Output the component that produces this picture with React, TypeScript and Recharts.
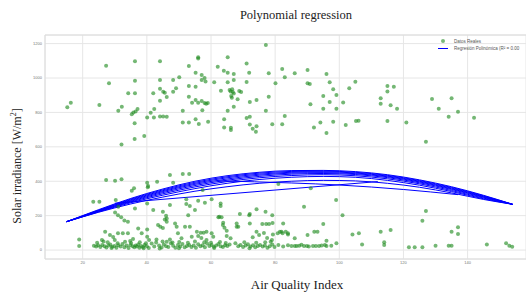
import React from 'react';
import { ComposedChart, Scatter, Line, XAxis, YAxis, CartesianGrid, ReferenceLine } from 'recharts';

// ---------- data ----------
const xTicks = [20, 40, 60, 80, 100, 120, 140];
const yTicks = [0, 200, 400, 600, 800, 1000, 1200];

const highPoints: number[][] = [
  [15.2,830],[16.3,856],[25.2,843],[27.3,1071],[28.2,969],[32.1,614],[32.2,833],[31.1,810],[34.2,911],[35.3,790],[35.8,800],[36.5,805],[37.1,820],[36.3,1097],[36.3,984],[36.3,911],[36.2,737],[36.2,645],[39.2,663],[40.1,771],[41.2,798],[42.3,820],[42.2,771],[42,911],[44.1,1097],[44.1,988],[44.1,938],[44.1,868],[44.1,777],[45.1,777],[46.2,775],[45.1,920],[45.6,915],[46.2,890],[48.2,988],[48.2,920],[49.1,940],[50.1,1004],[51.2,810],[51.2,742],[53.1,1070],[53.1,953],[53.1,891],[53.1,742],[54.1,856],[55.2,1031],[55.2,949],[55.2,872],[55.2,760],[56,1120],[56,1114],[56,856],[56.2,733],[57.1,1017],[57.1,988],[57.1,866],[58,1000],[58.3,980],[58,855],[58.5,850],[59,855],[57.3,813],[59.1,746],[61,975],[62.1,1066],[63.1,926],[64,1042],[64.1,760],[64.1,712],[65.2,1120],[65.2,1031],[65.2,975],[65.2,810],[65.8,930],[66.1,922],[66.6,935],[66.8,918],[67.1,910],[66.3,895],[66.5,885],[66.2,711],[66.2,698],[67.1,1023],[67.1,988],[67.1,833],[68.3,876],[68.8,925],[69.4,918],[71.1,1085],[71.1,977],[71.1,767],[71.9,1031],[72.1,775],[72.1,730],[73,705],[74.2,720],[74,688],[72.1,860],[74.2,872],[77.1,1192],[77.1,810],[78,1027],[78,891],[79.1,731],[80.1,969],[82.2,1052],[82.2,731],[83,1004],[83,779],[86.1,1027],[90.1,1047],[90.1,969],[90.8,965],[91,847],[92.1,713],[94.1,742],[95,895],[95,822],[96,1023],[96,680],[97,975],[97,860],[98.1,934],[98.1,746],[99.1,901],[99.1,822],[101.2,858],[102,727],[103.1,940],[105,978],[105.2,750],[106,752],[112.9,882],[112.9,851],[115,953],[115,922],[115,750],[116,841],[117,949],[118,822],[120.9,742],[127,630],[128.9,878],[131,822],[134.1,775],[135,882],[137,804],[142,769]
];

const midPoints: number[][] = [
  [27.3,407],[30.1,403],[32.1,411],[23.3,281],[25.2,281],[30.3,291],[30.1,219],[31,203],[32,190],[33,172],[34.1,165],[31.1,252],[35.3,345],[36,359],[40.1,391],[40.3,365],[40.4,372],[43.2,397],[40.1,271],[36.3,242],[42,233],[45,222],[46,200],[45.6,178],[47.2,436],[48.2,391],[47.2,262],[51.2,442],[53.2,442],[52.3,295],[52.3,267],[53.4,256],[55,233],[56,287],[58.1,275],[60.2,295],[63,271],[63,256],[57.4,349],[62.3,190],[63.3,190],[63.8,159],[69,209],[72.1,209],[74.2,237],[77,223],[76,151],[77.2,152],[79.1,203],[81,384],[82.5,155],[68,135],[27,106],[28.5,87],[31,97],[32.5,97],[34.1,97],[37.3,126],[40.1,120],[43.5,145],[44.2,136],[45,128],[46.2,184],[46.2,165],[48.8,155],[49.3,136],[52.9,203],[51.9,136],[53.4,136],[55.6,106],[56.8,101],[57.7,101],[58.6,106],[60.2,97],[62.6,194],[63.7,145],[64.2,130],[64.9,112],[68,155],[68.5,136],[71.9,203],[72.1,155],[74.2,106],[78.1,151],[80.8,97],[81.5,106],[83.3,106],[84,97],[89,252],[99,291],[101,203],[82,106],[82.3,97],[84,91],[90.1,87],[92.2,106],[93.2,106],[95,151],[104.1,91],[106.1,97],[112.9,106],[116,116],[125.9,170],[127,227],[135,106],[137,132],[137,93],[91.1,359],[79.2,157]
];

const lowPoints: number[][] = [
  [18.9,62],[18.9,23],[26,58],[26.5,50],[29.5,76],[30,58],[34.8,52],[35.7,64],[38.4,97],[40.1,77],[40.7,58],[43,62],[46.2,48],[47.2,62],[49.7,97],[50.8,68],[54,77],[56,81],[57,70],[58.6,58],[60.7,77],[64.9,81],[66.1,68],[73,74],[75,87],[76.5,99],[77.5,70],[78.6,48],[81,29],[86.1,68],[96,54],[99.1,39],[107.1,33],[114,45],[114,29],[121.7,16],[123.5,16],[125.9,16],[130,25],[134.1,25],[135,25],[146,33],[152,39],[153,25],[153.9,19],[85.1,23],[86.1,23],[86.7,23],[89,23],[89.9,23],[91.8,23],[92.7,23],[93.7,23],[96,23],[79,58],[79.3,90]
];

const densePoints: number[][] = [
  [23.5,25],[24.2,20],[24.8,28],[25.5,18],[26.1,30],[26.8,22],[27.4,15],[28,26],[28.6,33],[29.2,19],[29.9,24],[30.5,14],[31.1,28],[31.8,21],[32.4,35],[33,17],[33.7,26],[34.3,12],[34.9,30],[35.6,22],[36.1,16],[36.5,27],[36.9,20],[37.3,33],[37.7,14],[38.2,24],[38.8,18],[39.3,29],[40,22],[40.6,12],[41.5,38],[42.3,20],[43.8,26],[44.6,15],[45.3,32],[46,22],[46.7,18],[47.5,40],[48.2,25],[48.9,14],[49.7,29],[50.4,20],[51.1,35],[51.8,16],[52.5,24],[53.2,30],[53.9,18],[54.6,26],[55.3,14],[56,34],[56.7,22],[57.4,28],[58.1,17],[58.8,38],[59.5,24],[60.2,30],[60.9,19],[61.6,26],[62.3,35],[63,22],[63.7,18],[64.4,28],[65.1,24],[65.8,32],
  [68.5,22],[69.2,30],[70,18],[70.8,26],[71.5,34],[72.3,20],[73.1,28],[73.8,16],[74.6,24],[75.3,30],[76.1,20],[76.8,26],[77.6,14],[78.3,22],[79.1,33],[79.8,18],
  [82.5,20],[84,28],[87.5,25],[88.2,31],[90.5,20],[94.5,26],[95.5,30],[97.5,25],
  [24.5,42],[27.8,45],[30.9,40],[33.2,48],[35.1,41],[37.8,46],[39.7,40],[42.9,44],[44.9,50],[48,44],[50.1,47],[52.8,42],[55,49],[57.9,45],[60,42],[62.8,47],[64.6,41],[67.6,40],[70.4,45],[74.1,42],[76.9,46],[29,12],[39,10],[44,9],[50,11],[61,12],[72,10]
];

const fitX = [15, 25, 35, 45, 55, 65, 75, 85, 95, 105, 115, 125, 135, 145, 154];
const fit1 = [165, 235, 300, 355, 400, 432, 452, 462, 463, 456, 438, 408, 368, 318, 266];
const fit2 = [165, 232, 296, 350, 394, 426, 447, 457, 459, 452, 434, 404, 364, 315, 266];
const fit3 = [165, 230, 292, 345, 388, 420, 441, 452, 455, 448, 430, 400, 360, 312, 266];
const fit4 = [165, 228, 288, 340, 382, 413, 435, 447, 450, 444, 426, 396, 356, 309, 266];
const fit5 = [165, 226, 284, 334, 375, 406, 428, 441, 445, 439, 421, 391, 352, 306, 266];
const fit6 = [165, 224, 280, 327, 367, 398, 420, 433, 438, 432, 414, 385, 346, 302, 266];
const fit7 = [165, 222, 275, 319, 357, 388, 410, 423, 428, 423, 405, 377, 340, 298, 266];
const fit8 = [165, 220, 268, 308, 342, 368, 388, 400, 405, 402, 388, 365, 332, 294, 266];

const chordAX = [30, 112];
const chordAY = [272, 398];
const chordBX = [62, 85, 100, 120, 137];
const chordBY = [402, 390, 378, 352, 322];

// ---------- chart ----------
const W = 526;
const H = 294;
const GREEN = '#1f8a1f';
const BLUE = '#0000ff';
const tickStyle = { fontSize: 4, fill: '#777', fontFamily: '"Liberation Sans", Arial, sans-serif' };

const Dot = (p: any) => <circle cx={p.cx} cy={p.cy} r={2} fill={GREEN} fillOpacity={0.62} />;

export default function App() {
  const points = [...highPoints, ...midPoints, ...lowPoints, ...densePoints].map(([x, y]) => ({ x, y }));
  const curves = [fit1, fit2, fit3, fit4, fit5, fit6, fit7, fit8].map((c) => fitX.map((x, i) => ({ x, y: c[i] })));
  const chordA = chordAX.map((x, i) => ({ x, y: chordAY[i] }));
  const chordB = chordBX.map((x, i) => ({ x, y: chordBY[i] }));
  const serif = '"Liberation Serif", "Times New Roman", serif';
  return (
    <div style={{ position: 'absolute', left: 0, top: 0, width: W, height: H, background: '#fff', overflow: 'hidden' }}>
      <ComposedChart width={W} height={H} margin={{ top: 35, right: 0, bottom: 0, left: 0 }}>
        <CartesianGrid stroke="#e6e6e6" strokeWidth={1} />
        <XAxis
          dataKey="x"
          type="number"
          domain={[8.25, 158.2]}
          ticks={xTicks}
          allowDataOverflow
          height={35}
          tick={tickStyle}
          tickLine={false}
          tickSize={0}
          tickMargin={2}
          axisLine={{ stroke: '#dcdcdc' }}
        />
        <YAxis
          dataKey="y"
          type="number"
          domain={[-52, 1250]}
          ticks={yTicks}
          allowDataOverflow
          width={45}
          tick={tickStyle}
          tickLine={false}
          tickSize={0}
          tickMargin={3}
          axisLine={{ stroke: '#dcdcdc' }}
        />
        <ReferenceLine y={1250} stroke="#dcdcdc" />
        <Scatter data={points} fill={GREEN} shape={Dot} isAnimationActive={false} />
        {curves.map((c, i) => (
          <Line key={'f' + i} data={c} dataKey="y" type="monotone" stroke={BLUE} strokeWidth={1} dot={false} activeDot={false} isAnimationActive={false} />
        ))}
        <Line data={chordA} dataKey="y" type="linear" stroke={BLUE} strokeWidth={1} dot={false} activeDot={false} isAnimationActive={false} />
        <Line data={chordB} dataKey="y" type="monotone" stroke={BLUE} strokeWidth={1} dot={false} activeDot={false} isAnimationActive={false} />
      </ComposedChart>

      {/* title */}
      <div style={{ position: 'absolute', left: 196, top: 8, width: 200, textAlign: 'center', fontFamily: serif, fontSize: 12.5, lineHeight: '14px', color: '#222' }}>
        Polynomial regression
      </div>
      {/* x label */}
      <div style={{ position: 'absolute', left: 197, top: 278, width: 200, textAlign: 'center', fontFamily: serif, fontSize: 13, lineHeight: '14px', color: '#222' }}>
        Air Quality Index
      </div>
      {/* y label */}
      <div style={{ position: 'absolute', left: 17 - 80, top: 166 - 7, width: 160, height: 14, textAlign: 'center', fontFamily: serif, fontSize: 12, lineHeight: '14px', color: '#222', transform: 'rotate(-90deg)', whiteSpace: 'nowrap' }}>
        Solar irradiance [W/m<sup style={{ fontSize: 8, verticalAlign: 'super', lineHeight: 0 }}>2</sup>]
      </div>
      {/* legend */}
      <div style={{ position: 'absolute', left: 437, top: 38, fontFamily: '"Liberation Sans", Arial, sans-serif', fontSize: 4.5, color: '#555', whiteSpace: 'nowrap' }}>
        <div style={{ display: 'flex', alignItems: 'center', height: 7 }}>
          <span style={{ display: 'inline-block', width: 12, textAlign: 'center' }}>
            <span style={{ display: 'inline-block', width: 4, height: 4, borderRadius: 2, background: GREEN, opacity: 0.6 }} />
          </span>
          <span style={{ marginLeft: 5 }}>Datos Reales</span>
        </div>
        <div style={{ display: 'flex', alignItems: 'center', height: 7 }}>
          <span style={{ display: 'inline-block', width: 12, textAlign: 'center' }}>
            <span style={{ display: 'inline-block', width: 10, height: 1, background: BLUE, verticalAlign: 'middle' }} />
          </span>
          <span style={{ marginLeft: 5 }}>Regresión Polinómica (R² = 0.00</span>
        </div>
      </div>
    </div>
  );
}
